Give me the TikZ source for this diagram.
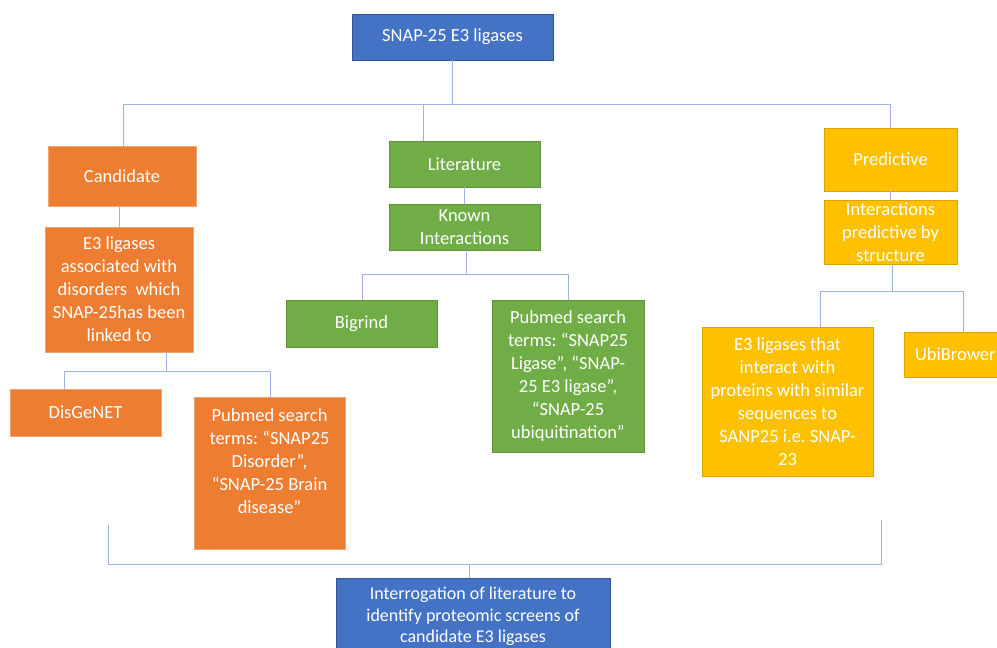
\documentclass[tikz,border=0pt]{standalone}
\usepackage{fontspec}
\setmainfont{Carlito}
\frenchspacing
\definecolor{cblue}{HTML}{4472C4}
\definecolor{corange}{HTML}{ED7D31}
\definecolor{cgreen}{HTML}{70AD47}
\definecolor{cyellow}{HTML}{FFC000}
\definecolor{cline}{HTML}{9DB5E0}
\begin{document}
\begin{tikzpicture}[x=1pt,y=-1pt,
  box/.style={rectangle, text=white, align=center, inner sep=2pt,
    font=\fontsize{18.5}{23}\selectfont, line width=0.6pt},
  bluebox/.style={box, fill=cblue, draw=cblue!75!black},
  orangebox/.style={box, fill=corange, draw=corange!70!white},
  greenbox/.style={box, fill=cgreen, draw=cgreen!85!black},
  yellowbox/.style={box, fill=cyellow, draw=cyellow!85!black},
  conn/.style={draw=cline, line width=0.9pt}]
\useasboundingbox (0,0) rectangle (997,648);
\clip (0,0) rectangle (997,648);

% nodes
\node[bluebox, minimum width=201pt, minimum height=46pt] (top) at (452.5,37) {SNAP-25 E3 ligases};

\node[orangebox, minimum width=148pt, minimum height=60pt] (cand) at (122,176) {Candidate};
\node[orangebox, minimum width=148pt, minimum height=125pt] (e3c) at (119,289.5)
  {E3 ligases\\associated with\\disorders\ \ which\\SNAP-25has been\\linked to};
\node[orangebox, minimum width=151pt, minimum height=47pt] (dis) at (85.5,412.5) {DisGeNET};
\node[orangebox, minimum width=151pt, minimum height=152pt] (pubo) at (269.5,473)
  {Pubmed search\\terms: “SNAP25\\Disorder”,\\“SNAP-25 Brain\\disease”\\\mbox{}};

\node[greenbox, minimum width=151pt, minimum height=46pt] (lit) at (464.5,164) {Literature};
\node[greenbox, minimum width=151pt, minimum height=46pt] (known) at (464.5,227) {Known\\Interactions};
\node[greenbox, minimum width=151pt, minimum height=47pt] (big) at (361.5,323.5) {Bigrind};
\node[greenbox, minimum width=152pt, minimum height=152pt] (pubg) at (568,376)
  {Pubmed search\\terms: “SNAP25\\Ligase”, “SNAP-\\25 E3 ligase”,\\“SNAP-25\\ubiquitination”};

\node[yellowbox, minimum width=133pt, minimum height=63pt] (pred) at (890.5,159.5) {Predictive};
\node[yellowbox, minimum width=133pt, minimum height=64pt] (ip) at (890.5,232)
  {Interactions\\predictive by\\structure};
\node[yellowbox, minimum width=171pt, minimum height=149pt] (e3y) at (787.5,401.5)
  {E3 ligases that\\interact with\\proteins with similar\\sequences to\\SANP25 i.e. SNAP-\\23};
\node[yellowbox, minimum width=102pt, minimum height=45pt, anchor=west] (ubi) at (904,354.5) {UbiBrower};

\node[bluebox, minimum width=274pt, minimum height=76pt, anchor=north,
      font=\fontsize{18}{21.5}\selectfont, inner ysep=3pt] (bot) at (473,578)
  {Interrogation of literature to\\identify proteomic screens of\\candidate E3 ligases};

% helper coordinates
\coordinate (hubL) at (123,104);
\coordinate (hubM) at (423,104);
\coordinate (hubR) at (890,104);
\coordinate (c1) at (166,371);
\coordinate (c2) at (64,371);
\coordinate (c3) at (270,371);
\coordinate (k1) at (466,274);
\coordinate (k2) at (362,274);
\coordinate (k3) at (568,274);
\coordinate (p1) at (892,291);
\coordinate (p2) at (820,291);
\coordinate (p3) at (963,291);
\coordinate (q1) at (108,525);
\coordinate (q2) at (108,564);
\coordinate (q3) at (881,564);
\coordinate (q4) at (881,520);
\coordinate (q5) at (469,564);

% connectors
\draw[conn] (top.south) -- (top.south |- hubL);
\draw[conn] (hubL |- cand.north) -- (hubL) -- (hubR) -- (hubR |- pred.north);
\draw[conn] (hubM) -- (hubM |- lit.north);

\draw[conn] (e3c.north |- cand.south) -- (e3c.north);
\draw[conn] (c1 |- e3c.south) -- (c1);
\draw[conn] (c2 |- dis.north) -- (c2) -- (c3) -- (c3 |- pubo.north);

\draw[conn] (lit.south) -- (known.north);
\draw[conn] (k1 |- known.south) -- (k1);
\draw[conn] (k2 |- big.north) -- (k2) -- (k3) -- (k3 |- pubg.north);

\draw[conn] (pred.south) -- (ip.north);
\draw[conn] (p1 |- ip.south) -- (p1);
\draw[conn] (p2 |- e3y.north) -- (p2) -- (p3) -- (p3 |- ubi.north);

\draw[conn] (q1) -- (q2) -- (q3) -- (q4);
\draw[conn] (q5) -- (q5 |- bot.north);
\end{tikzpicture}
\end{document}
